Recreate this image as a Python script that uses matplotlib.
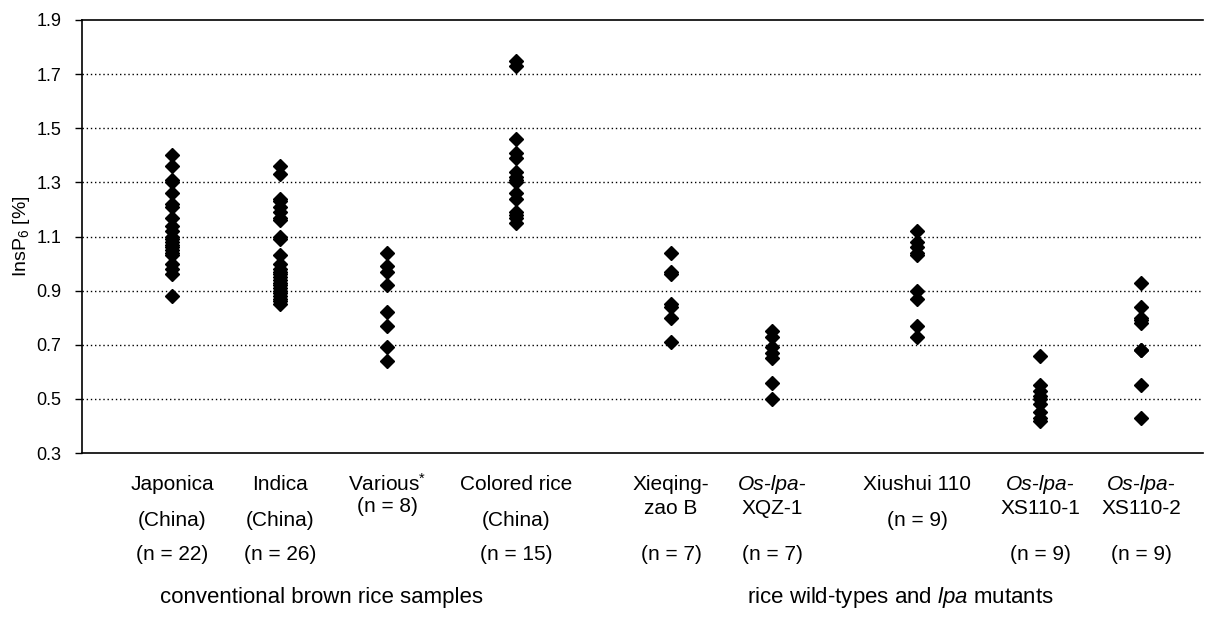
import numpy as np
import matplotlib
matplotlib.use("Agg")
import matplotlib.pyplot as plt

plt.rcParams['font.family'] = ['Liberation Sans', 'DejaVu Sans']
plt.rcParams['mathtext.fontset'] = 'custom'
plt.rcParams['mathtext.rm'] = 'Liberation Sans'
plt.rcParams['mathtext.it'] = 'Liberation Sans:italic'

# InsP6 content per sample group
japonica = [1.40, 1.36, 1.31, 1.30, 1.26, 1.22, 1.21, 1.17, 1.14, 1.12, 1.10,
            1.09, 1.08, 1.07, 1.06, 1.05, 1.04, 1.03, 1.00, 0.98, 0.96, 0.88]
indica = [1.36, 1.33, 1.24, 1.23, 1.21, 1.19, 1.17, 1.16, 1.10, 1.09, 1.03,
          1.00, 0.98, 0.97, 0.96, 0.95, 0.94, 0.93, 0.92, 0.91, 0.90, 0.89,
          0.88, 0.87, 0.86, 0.85]
various = [1.04, 0.99, 0.97, 0.92, 0.82, 0.77, 0.69, 0.64]
colored = [1.75, 1.73, 1.46, 1.41, 1.39, 1.34, 1.32, 1.31, 1.30, 1.26, 1.24,
           1.19, 1.18, 1.17, 1.15]
xieqing = [1.04, 0.97, 0.96, 0.85, 0.84, 0.80, 0.71]
xqz1 = [0.75, 0.73, 0.69, 0.67, 0.65, 0.56, 0.50]
xiushui = [1.12, 1.08, 1.06, 1.04, 1.03, 0.90, 0.87, 0.77, 0.73]
xs110_1 = [0.66, 0.55, 0.53, 0.51, 0.50, 0.48, 0.45, 0.43, 0.42]
xs110_2 = [0.93, 0.84, 0.80, 0.79, 0.78, 0.68, 0.68, 0.55, 0.43]

groups = [japonica, indica, various, colored, xieqing, xqz1, xiushui, xs110_1, xs110_2]
xpos = [0.90, 1.98, 3.05, 4.34, 5.89, 6.90, 8.35, 9.58, 10.59]

# label lines: (text, offset below axis in px, italic)
labels = [
    [("Japonica", 31, False), ("(China)", 67, False), ("(n = 22)", 102, False)],
    [("Indica", 31, False), ("(China)", 67, False), ("(n = 26)", 102, False)],
    [("Various$^{*}$", 31, False), ("(n = 8)", 54, False)],
    [("Colored rice", 31, False), ("(China)", 67, False), ("(n = 15)", 102, False)],
    [("Xieqing-", 31, False), ("zao B", 55, False), ("(n = 7)", 102, False)],
    [("Os-lpa-", 31, True), ("XQZ-1", 55, False), ("(n = 7)", 102, False)],
    [("Xiushui 110", 31, False), ("(n = 9)", 68, False)],
    [("Os-lpa-", 31, True), ("XS110-1", 55, False), ("(n = 9)", 102, False)],
    [("Os-lpa-", 31, True), ("XS110-2", 55, False), ("(n = 9)", 102, False)],
]
group_titles = ["conventional brown rice samples", "rice wild-types and $\\it{lpa}$ mutants"]
group_x = [2.39, 8.18]

fig = plt.figure(figsize=(12.05, 6.17), dpi=100)
ax = fig.add_axes([82 / 1205, 1 - 453 / 617, 1121 / 1205, 433 / 617])

for x, vals in zip(xpos, groups):
    ax.plot([x] * len(vals), vals, linestyle='none', marker='D',
            markersize=7.5, color='black')

ax.set_xlim(0, 11.21)
ax.set_ylim(0.3, 1.9)
yt = np.arange(0.3, 1.91, 0.2)
ax.set_yticks(yt)
ax.set_yticklabels([f"{v:.1f}" for v in yt], fontsize=13)
ax.set_xticks([])
ax.tick_params(axis='y', direction='out', length=5, width=1, pad=10)
for y in yt[1:-1]:
    ax.axhline(y, color='black', linestyle=(0, (1, 2)), linewidth=1, zorder=0)
ax.spines['right'].set_visible(False)
for s in ['left', 'bottom', 'top']:
    ax.spines[s].set_linewidth(1.2)

ax.set_ylabel("InsP$_6$ [%]", fontsize=14, labelpad=3)

for x, lines in zip(xpos, labels):
    for text, off, ital in lines:
        ax.annotate(text, xy=(x, 0), xycoords=ax.get_xaxis_transform(),
                    xytext=(0, -off), textcoords='offset pixels',
                    ha='center', va='center', fontsize=15,
                    fontstyle='italic' if ital else 'normal')

for x, title in zip(group_x, group_titles):
    ax.annotate(title, xy=(x, 0), xycoords=ax.get_xaxis_transform(),
                xytext=(0, -145), textcoords='offset pixels',
                ha='center', va='center', fontsize=16)

fig.savefig("out.png", dpi=100)
